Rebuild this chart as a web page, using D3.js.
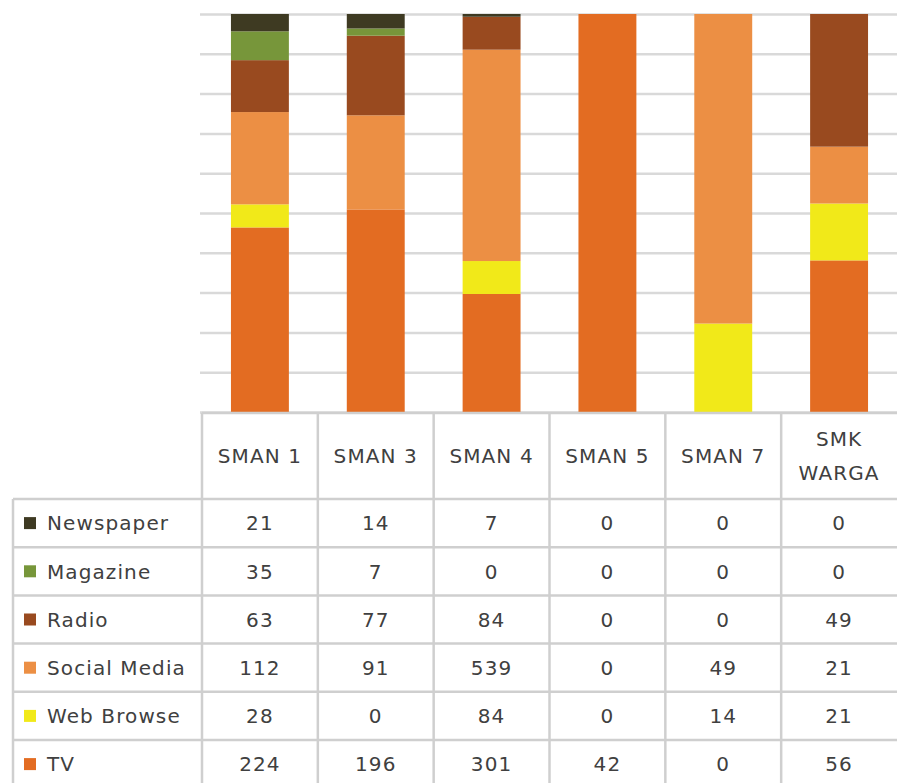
<!DOCTYPE html>
<html>
<head>
<meta charset="utf-8">
<script src="https://cdn.jsdelivr.net/npm/d3@7"></script>
<style>
  html, body { margin: 0; padding: 0; background: #ffffff; }
  svg { display: block; }
</style>
</head>
<body>
<svg id="chart" width="897" height="783"></svg>
<script>
// Schools along the horizontal axis
const schools = ["SMAN 1", "SMAN 3", "SMAN 4", "SMAN 5", "SMAN 7", "SMK WARGA"];

// Media series, bottom of the stack first
const seriesNames = ["TV", "Web Browse", "Social Media", "Radio", "Magazine", "Newspaper"];

// Counts per school, one array per medium
const tv          = [224, 196, 301, 42, 0, 56];
const webBrowse   = [28, 0, 84, 0, 14, 21];
const socialMedia = [112, 91, 539, 0, 49, 21];
const radio       = [63, 77, 84, 0, 0, 49];
const magazine    = [35, 7, 0, 0, 0, 0];
const newspaper   = [21, 14, 7, 0, 0, 0];

const seriesValues = [tv, webBrowse, socialMedia, radio, magazine, newspaper];
const seriesColors = ["#E36C22", "#F1E919", "#EC8F44", "#994A1F", "#77963A", "#3E3A22"];

// Percent gridlines
const gridTicks = [0, 0.1, 0.2, 0.3, 0.4, 0.5, 0.6, 0.7, 0.8, 0.9, 1];

// Rows of the data table, top to bottom
const tableOrder = ["Newspaper", "Magazine", "Radio", "Social Media", "Web Browse", "TV"];

const rows = schools.map((s, i) => {
  const r = { school: s };
  seriesNames.forEach((n, k) => { r[n] = seriesValues[k][i]; });
  return r;
});

const svg = d3.select("#chart");
const W = 897;

const plotLeft = 202, plotRight = 897, plotTop = 14, plotBottom = 412;

const x = d3.scaleBand().domain(schools).range([plotLeft, plotRight]).paddingInner(0).paddingOuter(0);
const y = d3.scaleLinear().domain([0, 1]).range([plotBottom, plotTop]);
const color = d3.scaleOrdinal().domain(seriesNames).range(seriesColors);

// gridlines
const grid = svg.append("g")
  .attr("transform", `translate(${plotLeft - 2},0)`)
  .call(d3.axisLeft(y).tickValues(gridTicks).tickSize(-(W - plotLeft + 2)).tickFormat(""));
grid.select(".domain").remove();
grid.selectAll(".tick line").attr("stroke", "#D9D9D9").attr("stroke-width", 2.5);

// stacked 100% bars
const stack = d3.stack().keys(seriesNames).offset(d3.stackOffsetExpand);
const layers = stack(rows);
const barW = x.bandwidth() * 0.5;

svg.append("g").selectAll("g")
  .data(layers)
  .join("g")
  .attr("fill", d => color(d.key))
  .selectAll("rect")
  .data(d => d.filter(p => p[1] - p[0] > 0))
  .join("rect")
  .attr("x", d => x(d.data.school) + (x.bandwidth() - barW) / 2)
  .attr("width", barW)
  .attr("y", d => y(d[1]))
  .attr("height", d => y(d[0]) - y(d[1]));

// data table
const tableTop = 413, headerBottom = 499, rowH = 48.2, tableLeft = 13;
const lineColor = "#CFCFCF";
const tbl = svg.append("g");
const txtFont = "DejaVu Sans, sans-serif";
const txtColor = "#404040";
const txtSize = 20;
const txtSpacing = 1.1;

// horizontal lines
tbl.append("line")
  .attr("x1", plotLeft).attr("x2", W)
  .attr("y1", tableTop).attr("y2", tableTop)
  .attr("stroke", lineColor).attr("stroke-width", 2.5);
tableOrder.forEach((n, i) => {
  const yy = headerBottom + i * rowH;
  tbl.append("line")
    .attr("x1", tableLeft).attr("x2", W)
    .attr("y1", yy).attr("y2", yy)
    .attr("stroke", lineColor).attr("stroke-width", 2.5);
});

// vertical lines
tbl.append("line")
  .attr("x1", tableLeft).attr("x2", tableLeft)
  .attr("y1", headerBottom).attr("y2", 783)
  .attr("stroke", lineColor).attr("stroke-width", 2.5);
schools.forEach(s => {
  tbl.append("line")
    .attr("x1", x(s)).attr("x2", x(s))
    .attr("y1", tableTop).attr("y2", 783)
    .attr("stroke", lineColor).attr("stroke-width", 2.5);
});

// header labels
schools.forEach(s => {
  const cx = x(s) + x.bandwidth() / 2;
  const words = s === "SMK WARGA" ? ["SMK", "WARGA"] : [s];
  const cy = (tableTop + headerBottom) / 2;
  words.forEach((w, j) => {
    tbl.append("text")
      .attr("x", cx)
      .attr("y", cy + (j - (words.length - 1) / 2) * 34)
      .attr("dy", "0.36em")
      .attr("text-anchor", "middle")
      .attr("font-family", txtFont)
      .attr("font-size", txtSize)
      .attr("letter-spacing", txtSpacing)
      .attr("fill", txtColor)
      .text(w);
  });
});

// series rows: legend key, name and values
tableOrder.forEach((n, i) => {
  const cy = headerBottom + i * rowH + rowH / 2;
  tbl.append("rect")
    .attr("x", 24).attr("y", cy - 6)
    .attr("width", 12).attr("height", 12)
    .attr("fill", color(n));
  tbl.append("text")
    .attr("x", 47).attr("y", cy)
    .attr("dy", "0.36em")
    .attr("font-family", txtFont)
    .attr("font-size", txtSize)
    .attr("letter-spacing", txtSpacing)
    .attr("fill", txtColor)
    .text(n);
  const vals = seriesValues[seriesNames.indexOf(n)];
  schools.forEach((s, j) => {
    tbl.append("text")
      .attr("x", x(s) + x.bandwidth() / 2)
      .attr("y", cy)
      .attr("dy", "0.36em")
      .attr("text-anchor", "middle")
      .attr("font-family", txtFont)
      .attr("font-size", txtSize)
      .attr("letter-spacing", txtSpacing)
      .attr("fill", txtColor)
      .text(vals[j]);
  });
});
</script>
</body>
</html>
